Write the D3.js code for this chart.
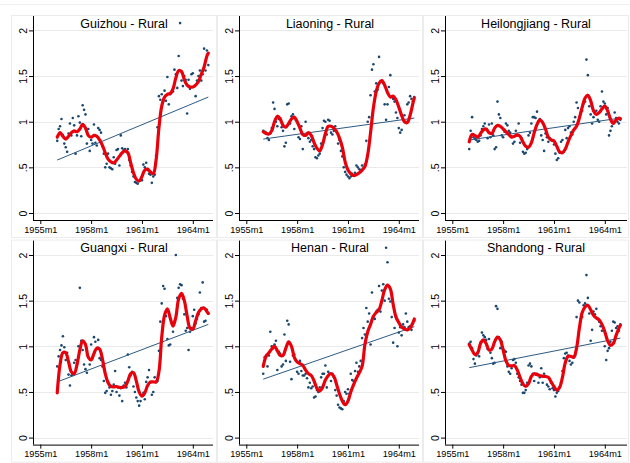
<!DOCTYPE html>
<html><head><meta charset="utf-8">
<script src="https://cdn.jsdelivr.net/npm/d3@7"></script>
<style>
body{margin:0;background:#fff}
svg{display:block}
text{font-family:"Liberation Sans",Arial,Helvetica,sans-serif;fill:#000}
</style>
</head><body>
<svg id="chart" width="630" height="463"></svg>
<script>
// ---------------- data ----------------
const TITLES = ["Guizhou - Rural","Liaoning - Rural","Heilongjiang - Rural","Guangxi - Rural","Henan - Rural","Shandong - Rural"];
const X_TICK_LABELS = ["1955m1","1958m1","1961m1","1964m1"];
const X_TICK_MONTHS = [0,36,72,108];           // months since 1955m1
const Y_TICKS = [0,0.5,1,1.5,2];
const Y_TICK_LABELS = ["0",".5","1","1.5","2"];
const FIRST_MONTH = 12;                          // 1956m1
const SMOOTH_MONTHS = [12,14,16,18,20,22,24,26,28,30,32,34,36,38,40,42,44,46,48,50,52,54,56,58,60,62,64,66,68,70,72,74,76,78,80,82,84,86,88,90,92,94,96,98,100,102,104,106,108,110,112,114,116,118,119];

// monthly observations 1956m1 .. 1964m12
const guizhou = [
0.79,0.92,0.95,1.03,0.85,0.76,0.72,0.67,0.87,0.98,0.85,1.04,
0.96,0.65,0.85,1.06,0.99,0.84,1.18,1.13,1.08,0.76,0.92,0.68,
0.80,0.76,0.97,0.77,0.74,0.93,0.91,0.88,0.73,0.65,0.50,0.54,
0.65,0.50,0.49,0.48,0.61,0.54,0.69,0.70,0.52,0.85,0.71,0.69,
0.70,0.67,0.70,0.58,0.52,0.45,0.40,0.34,0.33,0.32,0.35,0.36,
0.36,0.53,0.50,0.55,0.47,0.43,0.42,0.33,0.40,0.42,0.63,0.94,
1.28,1.24,1.30,1.22,1.34,1.23,1.49,1.19,1.30,1.32,1.33,1.57,
1.52,1.37,1.72,2.08,1.45,1.39,1.50,1.46,1.09,1.46,1.36,1.52,
1.53,1.39,1.28,1.45,1.50,1.56,1.45,1.52,1.80,1.56,1.78,1.62];
const liaoning = [
0.90,0.89,0.88,0.82,0.80,0.87,0.93,1.21,1.14,1.00,0.95,1.03,
1.04,0.94,0.90,0.73,0.77,1.19,1.20,0.98,1.06,1.08,0.92,1.02,
1.00,0.83,0.81,0.95,0.70,0.85,1.00,0.87,0.82,0.78,0.80,0.73,
0.70,0.61,0.60,0.63,0.65,0.76,0.93,1.01,1.00,0.86,1.02,1.01,
0.88,0.86,0.90,0.95,0.89,0.76,0.80,0.68,0.62,0.50,0.45,0.42,
0.40,0.38,0.40,0.43,0.41,0.44,0.52,0.50,0.48,0.47,0.52,0.49,
0.53,0.79,1.00,1.05,1.29,1.57,1.63,1.33,1.42,1.35,1.71,1.44,
1.44,1.42,1.19,1.02,1.19,1.38,1.51,1.27,1.25,1.22,1.10,1.04,
0.93,0.88,0.91,1.02,1.07,1.00,1.19,1.21,1.28,1.25,1.22,1.27];
const heilongjiang = [
0.70,0.90,1.05,0.83,0.81,0.80,0.78,0.79,0.85,0.92,0.95,0.98,
0.92,0.82,0.97,0.83,0.98,0.85,0.70,0.72,1.22,1.08,1.04,0.85,
0.83,0.89,0.98,0.96,0.90,0.88,0.84,0.76,0.78,0.90,0.85,0.98,
0.77,0.82,0.67,0.65,0.66,0.70,0.85,0.88,0.98,1.05,1.05,1.04,
1.11,1.00,1.03,0.85,0.80,0.68,0.87,0.83,0.78,0.82,0.80,0.79,
0.75,0.65,0.58,0.60,0.66,0.78,0.80,0.67,0.91,0.82,0.93,0.95,
0.88,0.86,1.00,1.05,1.21,1.15,1.05,1.10,1.12,1.20,1.22,1.68,
1.51,1.17,1.08,0.98,1.05,1.10,1.12,1.02,1.00,1.17,1.33,1.22,
1.20,1.08,1.15,0.85,0.90,0.95,1.00,1.10,1.04,1.00,0.98,1.02];
const guangxi = [
0.78,0.89,0.96,1.01,1.11,0.99,0.85,0.93,0.69,0.57,0.68,0.69,
0.82,0.85,0.80,1.00,1.64,1.06,0.96,0.80,0.75,0.71,0.88,0.80,
1.02,0.88,1.10,1.05,0.97,1.07,0.87,0.85,0.78,0.62,0.49,0.51,
0.61,0.55,0.47,0.51,0.58,0.73,0.50,0.55,0.46,0.54,0.40,0.57,
0.60,0.55,0.91,0.77,0.68,0.72,0.56,0.50,0.44,0.40,0.35,0.40,
0.46,0.49,0.42,0.61,0.66,0.74,0.60,0.47,0.50,0.66,0.61,0.62,
0.95,1.27,1.47,1.66,1.63,1.33,1.08,1.01,1.02,1.26,1.16,1.27,
2.00,1.53,1.64,1.68,1.67,1.52,1.35,1.17,1.20,0.96,1.16,1.20,
1.33,1.40,1.25,1.30,1.35,1.59,1.42,1.70,1.27,1.28,1.40,1.36];
const henan = [
0.70,0.88,0.90,0.78,0.90,1.16,1.00,0.98,1.02,1.06,0.74,0.94,
0.92,0.78,0.80,1.13,0.84,1.28,1.24,0.83,0.64,0.90,0.91,0.85,
0.72,0.70,0.84,0.73,0.68,0.68,0.70,0.65,0.55,0.60,0.54,0.56,
0.44,0.45,0.52,0.50,0.55,0.66,0.70,0.70,0.79,0.55,0.72,0.70,
0.62,0.70,0.66,0.52,0.46,0.36,0.33,0.32,0.31,0.40,0.50,0.48,
0.53,0.48,0.70,0.63,0.62,0.73,0.82,0.72,0.78,0.84,1.09,1.20,
1.13,1.42,1.27,1.36,1.02,1.59,1.32,1.30,1.38,1.40,1.66,1.38,
1.61,1.68,1.50,2.08,1.92,1.52,1.49,1.32,1.04,1.20,1.33,1.00,
1.15,1.21,1.12,1.24,1.21,1.36,1.27,1.21,1.22,1.18,1.25,1.28];
const shandong = [
1.03,1.05,0.98,0.86,0.81,0.90,0.92,0.89,1.04,1.15,1.12,1.10,
1.07,0.97,1.08,0.93,0.87,0.81,0.82,1.44,1.41,1.10,0.98,1.05,
0.97,0.95,0.94,0.78,0.72,0.70,0.76,0.85,0.86,0.82,0.70,0.66,
0.62,0.58,0.49,0.49,0.52,0.60,0.79,0.81,0.78,0.70,0.62,0.69,
0.70,0.60,0.66,0.76,0.60,0.70,0.67,0.58,0.56,0.53,0.60,0.54,
0.52,0.45,0.49,0.51,0.55,0.60,0.73,0.87,0.92,0.93,0.90,0.84,
0.80,0.82,0.88,0.90,1.32,1.50,1.48,1.30,1.32,1.45,1.47,1.78,
1.53,1.36,1.06,1.18,1.38,1.35,1.41,1.30,1.27,1.22,1.17,1.20,
1.00,0.85,0.95,0.98,1.05,1.17,1.27,1.26,1.20,1.22,1.17,1.24];

// smoothed (local polynomial) curves at SMOOTH_MONTHS
const guizhouSmooth = [0.83,0.88,0.84,0.81,0.84,0.88,0.90,0.89,0.92,0.97,0.93,0.85,0.83,0.85,0.84,0.80,0.74,0.66,0.59,0.56,0.55,0.58,0.62,0.66,0.68,0.66,0.55,0.44,0.37,0.35,0.40,0.47,0.48,0.45,0.43,0.58,0.93,1.17,1.27,1.30,1.31,1.36,1.48,1.56,1.55,1.46,1.40,1.38,1.38,1.40,1.44,1.52,1.60,1.72,1.75];
const liaoningSmooth = [0.89,0.87,0.865,0.90,1.00,1.06,1.03,0.96,0.94,0.98,1.03,1.05,1.00,0.93,0.86,0.85,0.88,0.85,0.77,0.71,0.68,0.75,0.87,0.95,0.95,0.93,0.89,0.82,0.72,0.56,0.47,0.43,0.41,0.42,0.44,0.47,0.51,0.64,0.88,1.15,1.33,1.42,1.45,1.40,1.32,1.27,1.28,1.24,1.16,1.07,1.00,0.99,1.07,1.20,1.26];
const heilongjiangSmooth = [0.78,0.86,0.85,0.83,0.87,0.91,0.92,0.88,0.87,0.93,0.96,0.95,0.92,0.89,0.86,0.83,0.84,0.855,0.84,0.78,0.73,0.72,0.77,0.88,0.97,1.02,0.99,0.92,0.83,0.80,0.79,0.73,0.67,0.66,0.70,0.78,0.85,0.91,0.95,1.04,1.16,1.26,1.29,1.23,1.12,1.08,1.10,1.14,1.17,1.12,1.03,0.98,1.02,1.04,1.035];
const guangxiSmooth = [0.49,0.80,0.93,0.93,0.83,0.72,0.70,0.80,0.96,1.06,1.02,0.88,0.85,0.92,0.98,0.97,0.86,0.70,0.60,0.56,0.555,0.56,0.55,0.55,0.56,0.62,0.70,0.71,0.62,0.50,0.455,0.49,0.57,0.61,0.61,0.61,0.72,1.10,1.34,1.41,1.31,1.22,1.32,1.52,1.58,1.50,1.33,1.20,1.19,1.28,1.37,1.41,1.42,1.38,1.36];
const henanSmooth = [0.78,0.89,0.93,0.97,1.00,0.95,0.90,0.90,0.98,1.05,1.00,0.88,0.83,0.81,0.79,0.74,0.70,0.68,0.62,0.54,0.51,0.55,0.63,0.68,0.70,0.67,0.58,0.48,0.40,0.36,0.40,0.50,0.58,0.65,0.71,0.78,1.02,1.16,1.24,1.33,1.37,1.40,1.50,1.62,1.67,1.63,1.46,1.32,1.26,1.21,1.19,1.18,1.20,1.26,1.30];
const shandongSmooth = [1.02,0.96,0.91,0.93,1.03,1.07,1.03,0.96,0.97,1.05,1.10,1.07,0.96,0.84,0.79,0.785,0.79,0.74,0.66,0.59,0.56,0.59,0.67,0.70,0.69,0.68,0.67,0.67,0.66,0.61,0.56,0.52,0.55,0.66,0.82,0.89,0.89,0.88,0.98,1.20,1.37,1.43,1.45,1.40,1.34,1.31,1.29,1.24,1.16,1.06,1.01,1.03,1.12,1.20,1.23];

// linear fit: value at first month and at last month
const guizhouFit = [0.58,1.27];
const liaoningFit = [0.81,1.04];
const heilongjiangFit = [0.80,1.04];
const guangxiFit = [0.61,1.24];
const henanFit = [0.64,1.215];
const shandongFit = [0.766,1.09];

const SERIES = [guizhou, liaoning, heilongjiang, guangxi, henan, shandong];
const SMOOTHS = [guizhouSmooth, liaoningSmooth, heilongjiangSmooth, guangxiSmooth, henanSmooth, shandongSmooth];
const FITS = [guizhouFit, liaoningFit, heilongjiangFit, guangxiFit, henanFit, shandongFit];

// ---------------- drawing ----------------
const svg = d3.select("#chart");
svg.append("rect").attr("width",630).attr("height",463).attr("fill","#fff");
svg.append("line").attr("x1",0).attr("x2",630).attr("y1",4.5).attr("y2",4.5).attr("stroke","#f0f0f0");

const COL_W = 206, ROW_H = 224.6;
const NAVY = "#1a476f";

SERIES.forEach((vals, i) => {
  const col = i % 3, row = Math.floor(i / 3);
  const ox = COL_W * col, oy = ROW_H * row;
  const g = svg.append("g");

  const x = d3.scaleLinear().domain([0,108]).range([40.3 + ox, 40.3 + ox + 152.5]);
  const y = d3.scaleLinear().domain([0,2]).range([213 + oy, 30.4 + oy]);

  const axisX = 33 + ox, axisY = 220 + oy;
  const right = (col === 2 ? 627 : 213 + ox);

  // panel frame
  g.append("rect").attr("x", 11.5 + ox).attr("y", 15.5 + oy)
    .attr("width", 205).attr("height", 222)
    .attr("fill","none").attr("stroke","#ececec");

  // grid
  g.selectAll(".grid").data(Y_TICKS).join("line")
    .attr("x1", axisX).attr("x2", right)
    .attr("y1", d => Math.round(y(d)) + 0.5).attr("y2", d => Math.round(y(d)) + 0.5)
    .attr("stroke", "#eaeaea").attr("stroke-width", 1);

  // title
  g.append("text").attr("x", 124 + ox).attr("y", 27.5 + oy)
    .attr("text-anchor","middle").attr("font-size", 12.5).text(TITLES[i]);

  // y axis
  const yAxis = d3.axisLeft(y).tickValues(Y_TICKS).tickFormat((d,k) => Y_TICK_LABELS[k]).tickSize(4).tickPadding(0);
  const ya = g.append("g").attr("transform", `translate(${axisX},0)`).call(yAxis);
  ya.select(".domain").remove();
  ya.selectAll(".tick line").attr("stroke","#000");
  ya.selectAll(".tick text")
    .attr("x", null).attr("dy", null)
    .attr("transform", "translate(-9.5,0) rotate(-90)")
    .attr("text-anchor","middle").attr("dy","0.35em")
    .attr("font-size", 10.5).attr("fill","#222").attr("font-family",'"Liberation Sans",Arial,sans-serif');
  g.append("line").attr("x1", axisX + 0.5).attr("x2", axisX + 0.5)
    .attr("y1", 16 + oy).attr("y2", axisY).attr("stroke","#000").attr("stroke-width",1);

  // x axis
  const xAxis = d3.axisBottom(x).tickValues(X_TICK_MONTHS).tickFormat((d,k) => X_TICK_LABELS[k]).tickSize(4).tickPadding(2);
  const xa = g.append("g").attr("transform", `translate(0,${axisY})`).call(xAxis);
  xa.select(".domain").remove();
  xa.selectAll(".tick line").attr("stroke","#000");
  xa.selectAll(".tick text").attr("font-size", 9.2).attr("fill","#222").attr("font-family",'"Liberation Sans",Arial,sans-serif');
  g.append("line").attr("x1", axisX).attr("x2", right)
    .attr("y1", axisY + 0.5).attr("y2", axisY + 0.5).attr("stroke","#000").attr("stroke-width",1);

  // scatter
  g.selectAll(".pt").data(vals).join("circle")
    .attr("cx", (d,k) => x(FIRST_MONTH + k)).attr("cy", d => y(d))
    .attr("r", 1.3).attr("fill", NAVY);

  // linear fit
  const fit = FITS[i];
  g.append("line")
    .attr("x1", x(FIRST_MONTH)).attr("y1", y(fit[0]))
    .attr("x2", x(FIRST_MONTH + vals.length - 1)).attr("y2", y(fit[1]))
    .attr("stroke", "#2c5b84").attr("stroke-width", 1);

  // smoothed curve
  const line = d3.line().x((d,k) => x(SMOOTH_MONTHS[k])).y(d => y(d)).curve(d3.curveCatmullRom.alpha(0.5));
  g.append("path").datum(SMOOTHS[i]).attr("d", line)
    .attr("fill","none").attr("stroke","#e8000b").attr("stroke-width",3.2)
    .attr("stroke-linejoin","round").attr("stroke-linecap","round");
});
</script>
</body></html>
